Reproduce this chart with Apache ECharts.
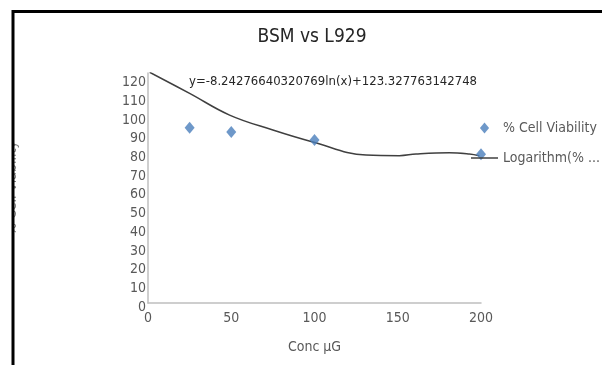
<!DOCTYPE html>
<html>
<head>
<meta charset="utf-8">
<script src="https://cdn.jsdelivr.net/npm/echarts@6/dist/echarts.min.js"></script>
<style>
  html, body { margin: 0; padding: 0; background: #fff; }
  #chart { width: 602px; height: 365px; }
</style>
</head>
<body>
<div id="chart"></div>
<script>
// measured points
const concentrations = [25, 50, 100, 200];
const viability = [93.7, 91.4, 87.2, 79.5];

// trend line as drawn in the picture
const trendX = [1, 25, 49, 75, 99, 131, 151, 161, 181, 193, 199];
const trendY = [123.4, 112.1, 100.5, 92.5, 86.1, 79.1, 78.8, 79.7, 80.4, 79.7, 78.8];

const xTicks = [0, 50, 100, 150, 200];
const equation = 'y=-8.24276640320769ln(x)+123.327763142748';

const FONT = '"DejaVu Sans Condensed", "Liberation Sans Narrow", Roboto, sans-serif';
const LABEL_COLOR = '#595959';
const AXIS_COLOR = '#bfbfbf';

const chart = echarts.init(document.getElementById('chart'));

chart.setOption({
	animation: false,
	textStyle: { fontFamily: FONT },
	title: {
		text: 'BSM vs L929',
		left: 307,
		top: 23,
		textAlign: 'center',
		textStyle: { fontFamily: FONT, fontSize: 19, fontWeight: 'normal', color: '#262626' },
	},
	legend: {
		left: 466,
		top: 116,
		orient: 'vertical',
		itemWidth: 27,
		itemHeight: 11,
		itemGap: 16,
		symbolKeepAspect: true,
		formatter: name => name.startsWith('Logarithm') ? 'Logarithm(% ...' : name,
		textStyle: { fontFamily: FONT, fontSize: 14, color: LABEL_COLOR },
		data: [
			{ name: '% Cell Viability', icon: 'path://M5,0L10,6L5,12L0,6Z' },
			{ name: 'Logarithm(% Cell Viability)', icon: 'path://M0,0L27,0L27,1.5L0,1.5Z' },
		],
	},
	grid: { left: 148, right: 121, top: 73, bottom: 62, outerBoundsMode: 'none' },
	xAxis: {
		type: 'value',
		min: xTicks[0],
		max: xTicks[xTicks.length - 1],
		interval: 50,
		name: 'Conc μG',
		nameLocation: 'middle',
		nameGap: 37,
		nameTextStyle: { fontFamily: FONT, fontSize: 14, color: LABEL_COLOR },
		axisLine: { show: true, lineStyle: { color: AXIS_COLOR, width: 1.5 } },
		axisTick: { show: false },
		splitLine: { show: false },
		axisLabel: { fontFamily: FONT, fontSize: 14, color: LABEL_COLOR, margin: 8 },
	},
	yAxis: {
		type: 'value',
		min: 0,
		max: 123,
		interval: 10,
		name: '% Cell Viability',
		nameLocation: 'middle',
		nameGap: 129,
		nameTextStyle: { fontFamily: FONT, fontSize: 14, color: '#7f7f7f' },
		axisLine: { show: true, lineStyle: { color: AXIS_COLOR, width: 1.5 } },
		axisTick: { show: false },
		splitLine: { show: false },
		axisLabel: {
			fontFamily: FONT, fontSize: 14, color: LABEL_COLOR, margin: 2,
			showMaxLabel: false, verticalAlign: 'top', lineHeight: 8,
		},
	},
	graphic: [
		{
			type: 'text',
			left: 189,
			top: 75,
			z: 10,
			style: { text: equation, font: '13px ' + FONT, fill: '#262626' },
		},
		{
			type: 'rect',
			shape: { x: 0, y: 0, width: 12, height: 365 },
			style: { fill: '#fff' },
			z: 100,
		},
		{
			type: 'polyline',
			shape: { points: [[13, 365], [13, 11.5], [602, 11.5]] },
			style: { stroke: '#000', lineWidth: 3, fill: null },
			z: 101,
		},
	],
	series: [
		{
			name: 'Logarithm(% Cell Viability)',
			type: 'line',
			data: trendX.map((x, i) => [x, trendY[i]]),
			smooth: 0.4,
			showSymbol: false,
			symbol: 'none',
			lineStyle: { color: '#404040', width: 1.5 },
			itemStyle: { color: '#404040' },
			z: 2,
		},
		{
			name: '% Cell Viability',
			type: 'scatter',
			data: concentrations.map((x, i) => [x, viability[i]]),
			symbol: 'diamond',
			symbolSize: [10, 12],
			itemStyle: { color: '#4a7ebb' },
			z: 3,
		},
	],
});
</script>
</body>
</html>
